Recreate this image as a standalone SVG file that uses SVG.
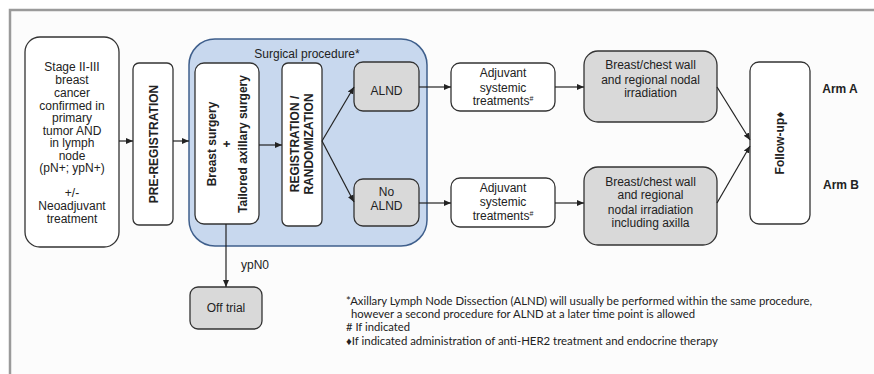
<svg xmlns="http://www.w3.org/2000/svg" width="874" height="374" viewBox="0 0 874 374">
<style>
.box{fill:#fff;stroke:#333;stroke-width:1.3}
.gbox{fill:#d9d9d9;stroke:#333;stroke-width:1.3}
.t{font-family:"Liberation Sans",Arial,sans-serif;font-size:12px;fill:#222;text-anchor:middle}
.b{font-weight:bold}
.fn{font-family:Lato,"Liberation Sans",sans-serif;font-size:11px;fill:#222}
.c{stroke:#222;stroke-width:1.2;fill:none;marker-end:url(#ah)}
</style>
<defs>
<marker id="ah" markerWidth="8" markerHeight="8" refX="7" refY="4" orient="auto" markerUnits="userSpaceOnUse">
<path d="M0,1 L7,4 L0,7 Z" fill="#222"/>
</marker>
</defs>
<rect x="0" y="0" width="874" height="374" fill="#fff"/>
<rect x="11" y="11" width="863" height="363" fill="#fcfcfc"/>
<path d="M10,374 V10 H874" stroke="#9a9a9a" stroke-width="2.5" fill="none"/>

<g id="surgical">
<rect x="189" y="39" width="238" height="207" rx="26" fill="#c8d8ee" stroke="#3f5f8c" stroke-width="1.5"/>
<text class="t" font-size="12.5" x="307" y="58">Surgical procedure*</text>
</g>

<g id="stage">
<rect class="box" x="25" y="37" width="94" height="210" rx="15"/>
<text class="t" font-size="10.8"><tspan x="72" y="71">Stage II-III</tspan><tspan x="72" y="84">breast</tspan><tspan x="72" y="97">cancer</tspan><tspan x="72" y="109.5">confirmed in</tspan><tspan x="72" y="122">primary</tspan><tspan x="72" y="134.5">tumor AND</tspan><tspan x="72" y="147">in lymph</tspan><tspan x="72" y="159.5">node</tspan><tspan x="72" y="172">(pN+; ypN+)</tspan><tspan x="72" y="197">+/-</tspan><tspan x="72" y="210">Neoadjuvant</tspan><tspan x="72" y="223">treatment</tspan></text>
</g>

<g id="prereg">
<rect class="box" x="133" y="63" width="40" height="162" rx="6"/>
<text class="t b" transform="translate(157.5,144) rotate(-90)" x="0" y="0">PRE-REGISTRATION</text>
</g>

<g id="breastsurgery">
<rect class="box" x="195" y="63" width="64" height="161" rx="9"/>
<text class="t b" transform="translate(227,144) rotate(-90)"><tspan x="0" y="-11">Breast surgery</tspan><tspan x="0" y="4">+</tspan><tspan x="0" y="20">Tailored axillary surgery</tspan></text>
</g>

<g id="registration">
<rect class="box" x="282" y="63" width="40" height="163" rx="6"/>
<text class="t b" transform="translate(302,144) rotate(-90)"><tspan x="0" y="-3">REGISTRATION /</tspan><tspan x="0" y="11">RANDOMIZATION</tspan></text>
</g>

<g id="alnd">
<rect class="gbox" x="354" y="62" width="65" height="49" rx="9"/>
<text class="t" x="386.5" y="95">ALND</text>
</g>

<g id="noalnd">
<rect class="gbox" x="354" y="179" width="65" height="47" rx="9"/>
<text class="t"><tspan x="386.5" y="196">No</tspan><tspan x="386.5" y="210">ALND</tspan></text>
</g>

<g id="adjA">
<rect class="box" x="451" y="63" width="104" height="48" rx="9"/>
<text class="t"><tspan x="503" y="77">Adjuvant</tspan><tspan x="503" y="92">systemic</tspan><tspan x="503" y="105">treatments<tspan font-size="7" dy="-4">#</tspan></tspan></text>
</g>

<g id="adjB">
<rect class="box" x="451" y="178" width="104" height="49" rx="9"/>
<text class="t"><tspan x="503" y="192">Adjuvant</tspan><tspan x="503" y="206">systemic</tspan><tspan x="503" y="220">treatments<tspan font-size="7" dy="-4">#</tspan></tspan></text>
</g>

<g id="radA">
<rect class="gbox" x="584" y="51" width="133" height="71" rx="14"/>
<text class="t"><tspan x="650.5" y="69">Breast/chest wall</tspan><tspan x="650.5" y="84">and regional nodal</tspan><tspan x="650.5" y="97">irradiation</tspan></text>
</g>

<g id="radB">
<rect class="gbox" x="584" y="167" width="133" height="78" rx="14"/>
<text class="t"><tspan x="650.5" y="186">Breast/chest wall</tspan><tspan x="650.5" y="199">and regional</tspan><tspan x="650.5" y="214">nodal irradiation</tspan><tspan x="650.5" y="227">including  axilla</tspan></text>
</g>

<g id="followup">
<rect class="box" x="750" y="62" width="60" height="162" rx="9"/>
<text class="t b" transform="translate(784,143) rotate(-90)" x="0" y="0">Follow-up♦</text>
</g>

<g id="arms">
<text class="t b" font-size="11" x="840" y="93">Arm A</text>
<text class="t b" font-size="11" x="841" y="189">Arm B</text>
</g>

<g id="offtrial">
<rect class="gbox" x="190" y="287" width="72" height="42" rx="8"/>
<text class="t" x="226" y="312">Off trial</text>
</g>

<g id="connectors">
<line class="c" x1="119" y1="141" x2="133" y2="141"/>
<line class="c" x1="173" y1="141" x2="189" y2="141"/>
<line class="c" x1="259" y1="145" x2="282" y2="145"/>
<line class="c" x1="322" y1="141" x2="354" y2="87"/>
<line class="c" x1="322" y1="141" x2="354" y2="202"/>
<line class="c" x1="419" y1="87" x2="451" y2="87"/>
<line class="c" x1="419" y1="203" x2="451" y2="203"/>
<line class="c" x1="555" y1="87" x2="584" y2="87"/>
<line class="c" x1="555" y1="203" x2="584" y2="203"/>
<line class="c" x1="717" y1="87" x2="750" y2="140"/>
<line class="c" x1="717" y1="203" x2="750" y2="146"/>
<line class="c" x1="226" y1="224" x2="226" y2="287"/>
<text class="t" font-size="11.5" x="255" y="269">ypN0</text>
</g>

<g id="footnotes">
<text class="fn" x="346" y="305" textLength="466" lengthAdjust="spacingAndGlyphs">*Axillary Lymph Node Dissection (ALND) will usually be performed within the same procedure,</text>
<text class="fn" x="351" y="318" textLength="344" lengthAdjust="spacingAndGlyphs">however a second procedure for ALND at a later time point is allowed</text>
<text class="fn" x="346" y="331" textLength="64" lengthAdjust="spacingAndGlyphs"># If indicated</text>
<text class="fn" x="346" y="345" textLength="372" lengthAdjust="spacingAndGlyphs">♦If indicated administration of anti-HER2 treatment and endocrine therapy</text>
</g>
</svg>
